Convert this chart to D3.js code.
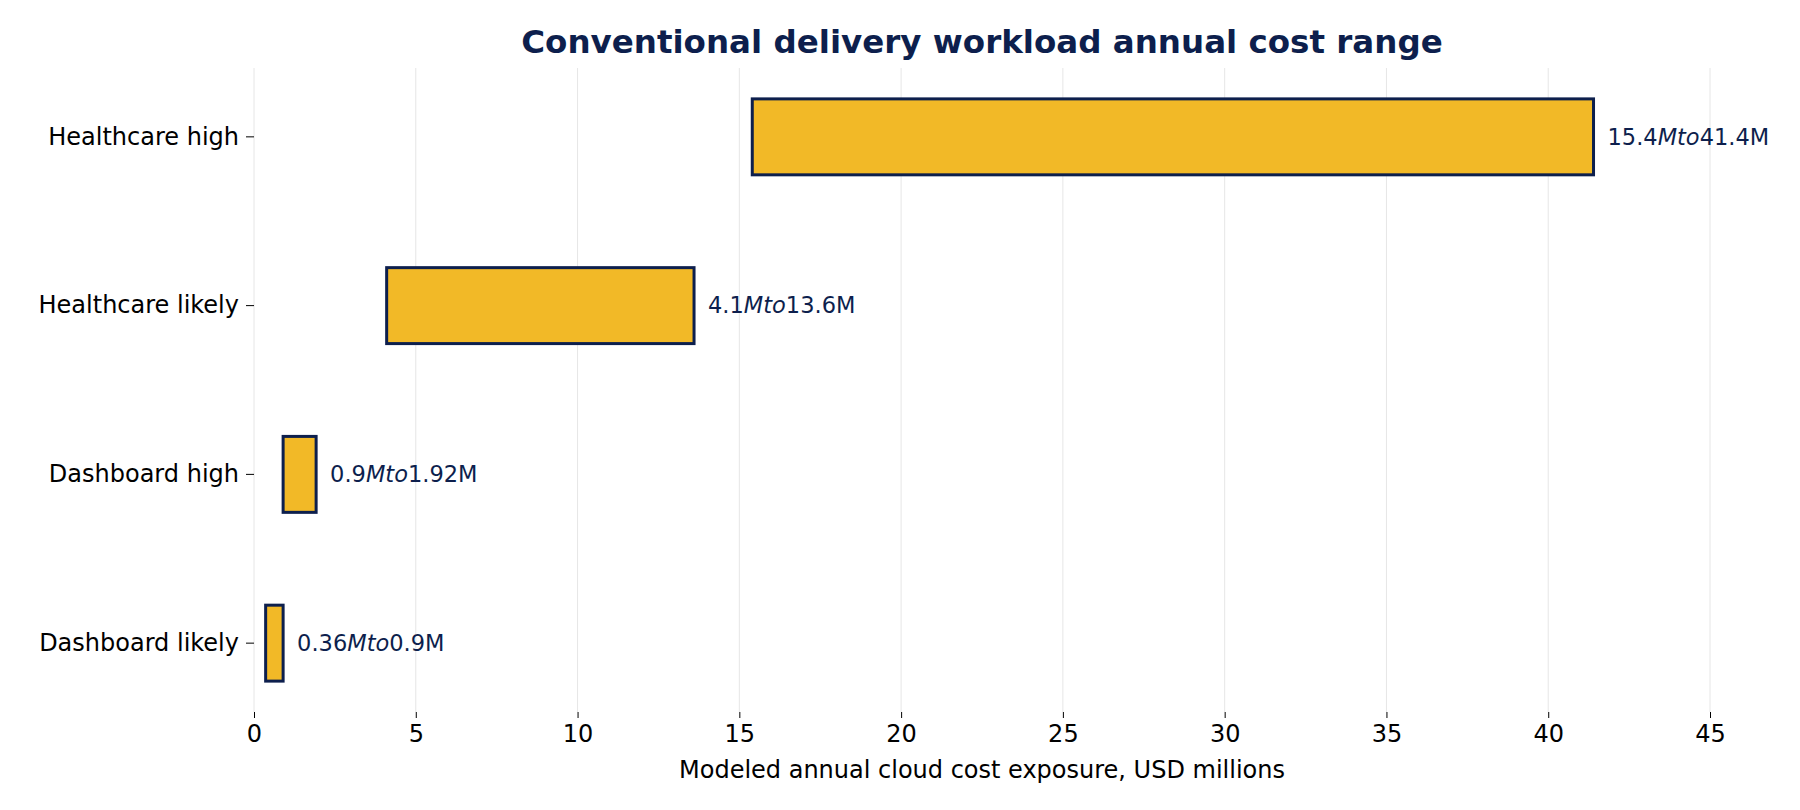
<!DOCTYPE html>
<html><head><meta charset="utf-8">
<script src="https://cdn.jsdelivr.net/npm/d3@7"></script>
<style>body{margin:0;background:#fff}svg{font-family:"DejaVu Sans",sans-serif}</style>
</head><body><svg id="c" width="1800" height="810"></svg>
<script>
const categories=["Healthcare high","Healthcare likely","Dashboard high","Dashboard likely"];
const lows=[15.4,4.1,0.9,0.36];
const highs=[41.4,13.6,1.92,0.9];
const lowLabels=["15.4","4.1","0.9","0.36"];
const highLabels=["41.4M","13.6M","1.92M","0.9M"];
const xTicks=[0,5,10,15,20,25,30,35,40,45];
const navy="#0d1f4d",fill="#f2b927";
const svg=d3.select("#c");
const L=254,R=1710,T=68,B=712;
const x=d3.scaleLinear().domain([0,45]).range([L,R]);
const y=d3.scaleBand().domain(categories).range([T,B]).paddingInner(0.55).paddingOuter(0.183);
svg.append("g").selectAll("line").data(xTicks).join("line")
 .attr("x1",d=>x(d)).attr("x2",d=>x(d)).attr("y1",T).attr("y2",B).attr("stroke","#e6e6e6").attr("stroke-width",1);
const xa=svg.append("g").attr("transform",`translate(0,${B})`).call(d3.axisBottom(x).tickValues(xTicks).tickSize(6).tickPadding(7));
xa.select(".domain").remove();
xa.selectAll("text").attr("font-size",24).attr("fill","#000").style("font-family","DejaVu Sans");
const ya=svg.append("g").attr("transform",`translate(${L},0)`).call(d3.axisLeft(y).tickSize(8).tickPadding(7));
ya.select(".domain").remove();
ya.selectAll("text").attr("font-size",24).attr("fill","#000").style("font-family","DejaVu Sans");
svg.append("g").selectAll("rect").data(categories).join("rect")
 .attr("x",(d,i)=>x(lows[i])).attr("width",(d,i)=>x(highs[i])-x(lows[i]))
 .attr("y",d=>y(d)).attr("height",y.bandwidth())
 .attr("fill",fill).attr("stroke",navy).attr("stroke-width",3);
const lbl=svg.append("g").selectAll("text").data(categories).join("text")
 .attr("x",(d,i)=>x(highs[i])+14).attr("y",d=>y(d)+y.bandwidth()/2).attr("dy","0.35em")
 .attr("font-size",22.5).attr("fill",navy);
lbl.each(function(d,i){const t=d3.select(this);
 t.append("tspan").text(lowLabels[i]);
 t.append("tspan").attr("font-style","italic").text("Mto");
 t.append("tspan").text(highLabels[i]);});
svg.append("text").attr("x",(L+R)/2).attr("y",42).attr("dy","0.35em").attr("text-anchor","middle")
 .attr("font-size",32.5).attr("font-weight","bold").attr("fill",navy).text("Conventional delivery workload annual cost range");
svg.append("text").attr("x",(L+R)/2).attr("y",770).attr("dy","0.35em").attr("text-anchor","middle")
 .attr("font-size",24).attr("fill","#000").text("Modeled annual cloud cost exposure, USD millions");
</script></body></html>
